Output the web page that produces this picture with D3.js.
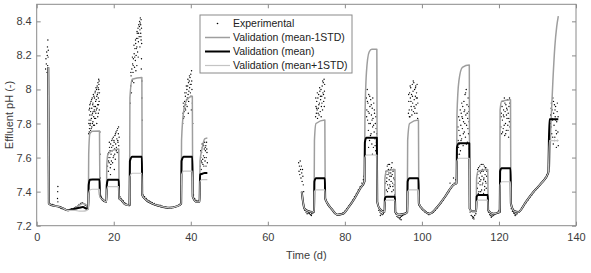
<!DOCTYPE html>
<html>
<head>
<meta charset="utf-8">
<script src="https://cdn.jsdelivr.net/npm/d3@7"></script>
<style>
  body { margin: 0; background: #fff; }
  text { font-family: "Liberation Sans", Arial, sans-serif; }
</style>
</head>
<body>
<div id="chart"></div>
<script>
// axis ticks
var xTicks = [0, 20, 40, 60, 80, 100, 120, 140];
var yTicks = [7.2, 7.4, 7.6, 7.8, 8, 8.2, 8.4];

// simulated runs (null = no simulation between the two campaigns)
var simTime = [3.0, 3.15, 4, 5, 6, 7, 8, 9, 10, 11, 12, 13, 13.4,
  13.5, 13.8, 14.5, 16.3, 16.4, 17, 18.1,
  18.2, 18.5, 20, 21.3, 21.4, 22, 23, 24.1,
  24.2, 24.8, 27.3, 27.4, 28, 30, 32, 34.5, 36.5, 37.5,
  37.6, 38.2, 39, 40.4, 40.5, 41.5, 42.3,
  42.4, 43, 43.6, 44.3,
  56,
  68.8, 69.5, 70.5, 71.5, 72.0,
  72.1, 72.5, 74.8, 74.9, 75.5, 76.5, 78, 79.5, 81, 82.5, 84, 85.1,
  85.2, 85.6, 86.3, 87, 88.3, 88.4, 89, 90.3,
  90.4, 90.8, 93.0, 93.1, 94, 95.5, 96.2,
  96.3, 96.8, 99.1, 99.2, 100.5, 102, 104, 106, 108.2, 109.0,
  109.1, 109.6, 110.5, 112.3, 112.4, 113, 114.1,
  114.2, 114.6, 117.1, 117.2, 118.5, 120.2,
  120.3, 120.7, 123.0, 123.1, 124, 125, 127, 129, 131, 132.8,
  133.1, 133.5, 134.0, 134.5, 135.0, 135.4];

var valMinus = [8.13, 7.33, 7.32, 7.315, 7.31, 7.30, 7.29, 7.295, 7.305, 7.32, 7.33, 7.32, 7.30,
  7.62, 7.74, 7.755, 7.756, 7.40, 7.355, 7.34,
  7.56, 7.62, 7.645, 7.65, 7.37, 7.35, 7.325, 7.32,
  7.95, 8.06, 8.07, 7.38, 7.36, 7.33, 7.315, 7.305, 7.315, 7.33,
  7.70, 7.88, 7.94, 7.96, 7.37, 7.34, 7.34,
  7.58, 7.66, 7.71, 7.715,
  null,
  7.40, 7.30, 7.285, 7.28, 7.285,
  7.70, 7.80, 7.82, 7.36, 7.33, 7.30, 7.265, 7.27, 7.31, 7.36, 7.42, 7.46,
  7.80, 8.10, 8.22, 8.236, 8.236, 7.34, 7.30, 7.28,
  7.48, 7.52, 7.53, 7.28, 7.265, 7.27, 7.28,
  7.70, 7.80, 7.82, 7.33, 7.29, 7.27, 7.31, 7.37, 7.44, 7.45,
  7.85, 8.05, 8.13, 8.143, 7.30, 7.285, 7.285,
  7.48, 7.52, 7.53, 7.29, 7.27, 7.28,
  7.88, 7.93, 7.94, 7.33, 7.285, 7.28, 7.34, 7.40, 7.45, 7.51,
  7.55, 7.80, 8.05, 8.25, 8.37, 8.43];

var valMean = [8.13, 7.33, 7.32, 7.315, 7.31, 7.30, 7.29, 7.295, 7.30, 7.305, 7.31, 7.30, 7.30,
  7.44, 7.47, 7.472, 7.472, 7.38, 7.355, 7.34,
  7.44, 7.47, 7.47, 7.47, 7.36, 7.35, 7.325, 7.32,
  7.58, 7.605, 7.605, 7.38, 7.36, 7.33, 7.315, 7.305, 7.315, 7.33,
  7.58, 7.605, 7.605, 7.605, 7.37, 7.34, 7.34,
  7.50, 7.505, 7.51, 7.51,
  null,
  7.40, 7.30, 7.285, 7.28, 7.285,
  7.46, 7.478, 7.478, 7.36, 7.33, 7.30, 7.265, 7.27, 7.31, 7.36, 7.42, 7.46,
  7.69, 7.717, 7.717, 7.717, 7.717, 7.34, 7.30, 7.28,
  7.36, 7.37, 7.37, 7.28, 7.265, 7.27, 7.28,
  7.46, 7.478, 7.478, 7.33, 7.29, 7.27, 7.31, 7.37, 7.44, 7.45,
  7.66, 7.684, 7.684, 7.684, 7.30, 7.285, 7.285,
  7.37, 7.38, 7.38, 7.29, 7.27, 7.28,
  7.52, 7.537, 7.537, 7.33, 7.285, 7.28, 7.34, 7.40, 7.45, 7.51,
  7.825, 7.825, 7.825, 7.825, 7.825, 7.825];

var valPlus = [8.13, 7.33, 7.32, 7.315, 7.31, 7.30, 7.29, 7.29, 7.29, 7.285, 7.285, 7.29, 7.30,
  7.39, 7.41, 7.414, 7.414, 7.37, 7.355, 7.34,
  7.41, 7.43, 7.43, 7.43, 7.36, 7.35, 7.325, 7.32,
  7.49, 7.508, 7.508, 7.38, 7.36, 7.33, 7.315, 7.305, 7.315, 7.33,
  7.50, 7.52, 7.52, 7.52, 7.37, 7.34, 7.34,
  7.46, 7.47, 7.47, 7.47,
  null,
  7.40, 7.30, 7.285, 7.28, 7.285,
  7.40, 7.41, 7.41, 7.36, 7.33, 7.30, 7.265, 7.27, 7.31, 7.36, 7.42, 7.46,
  7.60, 7.615, 7.615, 7.615, 7.615, 7.34, 7.30, 7.28,
  7.34, 7.35, 7.35, 7.28, 7.265, 7.27, 7.28,
  7.40, 7.41, 7.41, 7.33, 7.29, 7.27, 7.31, 7.37, 7.44, 7.45,
  7.58, 7.596, 7.596, 7.596, 7.30, 7.285, 7.285,
  7.34, 7.35, 7.35, 7.29, 7.27, 7.28,
  7.44, 7.458, 7.458, 7.33, 7.285, 7.28, 7.34, 7.40, 7.45, 7.51,
  7.70, 7.70, 7.70, 7.70, 7.70, 7.70];

// experimental points [time (d), pH]
var expRun1Start = [[2.3,8.12],[2.4,8.18],[2.5,8.15],[2.6,8.22],[2.7,8.10],[2.75,8.20],[2.8,8.25],[2.85,8.14],
  [2.9,8.29],[2.95,8.19],[3.0,8.23],[5.4,7.36],[5.45,7.40],[5.5,7.43],[5.5,7.34]];

var expRun1Base = [[3.3,7.33],[3.7,7.32],[4.1,7.325],[4.5,7.32],[4.9,7.315],[5.8,7.31],[6.2,7.305],[6.6,7.30],
  [7.0,7.30],[7.4,7.295],[7.8,7.29],[8.2,7.29],[8.6,7.295],[9.0,7.30],[9.4,7.30],[9.8,7.305],[10.2,7.31],
  [10.6,7.315],[11.0,7.325],[11.4,7.33],[11.8,7.335],[12.2,7.33],[12.6,7.32],[13.0,7.31],
  [16.6,7.37],[16.9,7.36],[17.2,7.355],[17.5,7.35],[17.8,7.345],[18.1,7.34],
  [21.6,7.37],[21.9,7.36],[22.2,7.35],[22.5,7.345],[22.8,7.335],[23.1,7.33],[23.4,7.325],[23.7,7.32],[24.0,7.32],
  [27.6,7.38],[28.0,7.37],[28.4,7.36],[28.8,7.35],[29.2,7.345],[29.6,7.34],[30.0,7.335],[30.5,7.33],[31.0,7.325],
  [31.5,7.32],[32.0,7.32],[32.5,7.315],[33.0,7.31],[33.5,7.31],[34.0,7.305],[34.5,7.305],[35.0,7.305],
  [35.5,7.31],[36.0,7.31],[36.5,7.315],[37.0,7.32],[37.4,7.33],
  [40.7,7.38],[41.0,7.36],[41.3,7.35],[41.6,7.345],[41.9,7.34],[42.2,7.35]];

var expRun1Peaks = [[13.5,7.74],[13.6,7.82],[13.6,7.88],[13.7,7.77],[13.8,7.85],[13.8,7.91],[13.9,7.80],[14.0,7.87],
  [14.0,7.76],[14.1,7.93],[14.2,7.83],[14.3,7.89],[14.3,7.78],[14.4,7.95],[14.5,7.86],[14.6,7.81],[14.6,7.92],
  [14.7,7.97],[14.8,7.84],[14.9,7.90],[15.0,7.79],[15.0,7.95],[15.1,7.87],[15.2,7.99],[15.3,7.83],[15.3,7.93],
  [15.4,8.01],[15.5,7.88],[15.6,7.96],[15.6,7.80],[15.7,8.02],[15.8,7.91],[15.9,7.98],[15.9,8.04],[16.0,7.86],
  [16.0,7.95],[16.1,8.06],[16.1,8.00],[16.2,7.93],[16.2,8.05],[16.3,7.98],[16.4,7.75],[16.45,7.62],[16.5,7.48],
  [18.4,7.55],[18.5,7.60],[18.6,7.52],[18.7,7.63],[18.8,7.57],[18.9,7.66],[19.0,7.60],[19.1,7.54],[19.2,7.68],
  [19.3,7.62],[19.4,7.58],[19.5,7.70],[19.6,7.64],[19.7,7.57],[19.8,7.67],[19.9,7.72],[20.0,7.61],[20.1,7.69],
  [20.2,7.65],[20.3,7.73],[20.4,7.59],[20.5,7.68],[20.6,7.75],[20.7,7.66],[20.8,7.71],[20.9,7.63],[21.0,7.77],
  [21.1,7.69],[21.2,7.74],[21.3,7.67],[21.4,7.72],
  [24.3,7.92],[24.4,8.02],[24.5,8.08],[24.6,7.98],[24.7,8.12],[24.8,8.05],[24.9,8.15],[25.0,8.10],[25.1,8.18],
  [25.2,8.04],[25.3,8.21],[25.4,8.13],[25.5,8.24],[25.6,8.17],[25.7,8.27],[25.8,8.20],[25.9,8.30],[26.0,8.14],
  [26.0,8.25],[26.1,8.33],[26.2,8.22],[26.3,8.36],[26.4,8.28],[26.5,8.38],[26.6,8.31],[26.7,8.40],[26.8,8.25],
  [26.8,8.35],[26.9,8.42],[27.0,8.33],[27.0,8.38],[27.1,8.41],[27.1,8.29],[27.2,8.36],[27.2,8.18],[27.3,8.05],
  [27.3,7.95],[27.4,7.82],
  [37.9,7.80],[38.0,7.86],[38.1,7.83],[38.2,7.90],[38.3,7.87],[38.4,7.93],[38.5,7.89],[38.6,7.96],[38.7,7.91],
  [38.8,7.98],[38.9,7.94],[39.0,8.00],[39.1,7.95],[39.2,8.02],[39.3,7.97],[39.4,8.04],[39.5,7.99],[39.6,8.05],
  [39.7,8.01],[39.8,8.07],[39.9,7.98],[40.0,8.09],[40.1,8.03],[40.2,8.11],[40.3,8.00],[40.4,7.92],[40.5,7.80],
  [42.5,7.55],[42.6,7.60],[42.7,7.53],[42.8,7.63],[42.9,7.57],[43.0,7.66],[43.1,7.59],[43.2,7.68],[43.3,7.61],
  [43.4,7.55],[43.5,7.65],[43.6,7.69],[43.7,7.58],[43.8,7.64],[43.9,7.67],[44.0,7.60],[44.1,7.69],[44.2,7.63],
  [44.3,7.57]];

var expRun1More = [[13.55,7.80],[13.65,7.75],[13.75,7.89],[13.85,7.79],[13.95,7.92],[14.05,7.82],[14.15,7.77],
  [14.25,7.94],[14.35,7.85],[14.45,7.80],[14.55,7.91],[14.65,7.87],[14.75,7.79],[14.85,7.96],[14.95,7.88],
  [15.05,7.83],[15.15,7.98],[15.25,7.90],[15.35,7.86],[15.45,7.94],[15.55,8.00],[15.65,7.89],[15.75,7.97],
  [15.85,7.84],[15.95,8.01],[16.05,7.91],[16.15,8.03],[16.25,7.88],
  [18.45,7.62],[18.65,7.58],[18.85,7.69],[19.05,7.64],[19.25,7.56],[19.45,7.66],[19.65,7.71],[19.85,7.60],
  [20.05,7.70],[20.25,7.62],[20.45,7.74],[20.65,7.64],[20.85,7.76],[21.05,7.70],[21.25,7.78],[19.15,7.50],[20.15,7.53],
  [24.45,8.10],[24.65,8.05],[24.85,8.19],[25.05,8.14],[25.25,8.26],[25.45,8.19],[25.65,8.29],[25.85,8.24],
  [26.05,8.34],[26.25,8.30],[26.45,8.33],[26.65,8.37],[26.85,8.39],[27.05,8.31],[27.25,8.27],[26.35,8.19],
  [25.75,8.11],[27.15,8.12],
  [38.05,7.92],[38.25,7.84],[38.45,7.98],[38.65,7.88],[38.85,8.02],[39.05,7.90],[39.25,8.06],[39.45,7.93],
  [39.65,8.08],[39.85,8.03],[40.05,7.96],[40.25,8.05],[40.15,7.88],[39.35,7.86],
  [42.55,7.64],[42.75,7.58],[42.95,7.68],[43.15,7.56],[43.35,7.67],[43.55,7.60],[43.75,7.66],[43.95,7.55],[44.15,7.65]];

var expRun2Base = [[68.0,7.57],[68.1,7.52],[68.2,7.55],[68.3,7.50],[68.4,7.58],[68.5,7.53],[68.6,7.48],[68.7,7.55],
  [68.8,7.51],[68.9,7.46],[69.0,7.53],[69.1,7.49],[69.2,7.44],[69.3,7.40],
  [69.6,7.29],[69.9,7.28],[70.2,7.27],[70.5,7.275],[70.8,7.27],[71.1,7.265],[71.4,7.27],[71.7,7.275],[72.0,7.28],
  [75.1,7.35],[75.4,7.33],[75.7,7.32],[76.0,7.31],[76.4,7.30],[76.8,7.29],[77.2,7.28],[77.6,7.27],[78.0,7.265],
  [78.5,7.265],[79.0,7.27],[79.5,7.275],[80.0,7.285],[80.5,7.30],[81.0,7.315],[81.5,7.33],[82.0,7.35],[82.5,7.37],
  [83.0,7.39],[83.5,7.41],[84.0,7.43],[84.4,7.45],[84.8,7.47],[85.0,7.49],
  [88.5,7.32],[88.8,7.29],[89.1,7.28],[89.4,7.27],[89.7,7.265],[90.0,7.27],[90.3,7.28],
  [93.2,7.27],[93.5,7.255],[93.8,7.25],[94.1,7.245],[94.4,7.25],[94.7,7.255],[95.0,7.26],[95.3,7.265],[95.6,7.27],
  [95.9,7.275],[96.2,7.28],
  [99.3,7.32],[99.6,7.31],[100.0,7.30],[100.4,7.29],[100.8,7.28],[101.2,7.275],[101.6,7.27],[102.0,7.27],
  [102.5,7.275],[103.0,7.28],[103.5,7.29],[104.0,7.305],[104.5,7.32],[105.0,7.335],[105.5,7.35],[106.0,7.37],
  [106.5,7.39],[107.0,7.40],[107.3,7.45],[107.5,7.42],[108.0,7.44],[108.2,7.48],[108.4,7.45],[108.8,7.47],
  [112.5,7.28],[112.8,7.26],[113.1,7.255],[113.4,7.25],[113.7,7.26],[114.0,7.27],
  [117.3,7.28],[117.6,7.265],[117.9,7.26],[118.2,7.255],[118.5,7.26],[118.8,7.265],[119.1,7.27],[119.4,7.275],
  [119.7,7.28],[120.0,7.29],
  [123.2,7.30],[123.5,7.285],[123.8,7.275],[124.1,7.27],[124.4,7.265],[124.7,7.27],[125.0,7.28],[125.5,7.29],
  [126.0,7.305],[126.5,7.32],[127.0,7.335],[127.5,7.35],[128.0,7.365],[128.5,7.38],[129.0,7.395],[129.5,7.41],
  [130.0,7.42],[130.5,7.435],[131.0,7.45],[131.5,7.465],[132.0,7.48],[132.5,7.50],[132.9,7.52],
  [71.3,7.26],[89.2,7.26],[94.3,7.24],[94.6,7.235],[101.8,7.265],[113.2,7.245],[113.5,7.24],[118.0,7.25],[124.2,7.26]];

var expRun2Peaks = [[72.4,7.84],[72.5,7.90],[72.6,7.86],[72.7,7.93],[72.8,7.88],[72.9,7.83],[73.0,7.95],[73.1,7.89],
  [73.2,7.97],[73.3,7.85],[73.4,7.92],[73.5,7.99],[73.6,7.87],[73.7,7.94],[73.8,8.00],[73.9,7.90],[74.0,7.96],
  [74.1,8.02],[74.2,7.88],[74.3,7.98],[74.4,8.04],[74.5,7.93],[74.6,8.06],[74.7,7.99],[74.8,7.95],
  [85.6,7.95],[85.7,7.88],[85.8,8.00],[85.9,7.82],[86.0,7.92],[86.1,7.76],[86.2,7.97],[86.3,7.86],[86.4,7.70],
  [86.5,7.90],[86.6,7.80],[86.7,7.94],[86.8,7.74],[86.9,7.85],[87.0,7.68],[87.1,7.89],[87.2,7.78],[87.3,7.83],
  [87.4,7.66],[87.5,7.92],[87.6,7.75],[87.7,7.86],[87.8,7.71],[87.9,7.80],[88.0,7.64],[88.1,7.77],[88.2,7.69],
  [88.3,7.62],
  [90.6,7.45],[90.7,7.52],[90.8,7.41],[90.9,7.48],[91.0,7.55],[91.1,7.44],[91.2,7.50],[91.3,7.53],[91.4,7.42],
  [91.5,7.47],[91.6,7.56],[91.7,7.49],[91.8,7.43],[91.9,7.51],[92.0,7.46],[92.1,7.54],[92.2,7.40],[92.3,7.50],
  [92.4,7.45],[92.5,7.52],[92.6,7.41],[92.7,7.48],[92.8,7.44],[92.9,7.38],
  [96.5,7.86],[96.6,7.93],[96.7,7.88],[96.8,7.98],[96.9,7.84],[97.0,7.95],[97.1,8.01],[97.2,7.90],[97.3,7.97],
  [97.4,7.85],[97.5,8.03],[97.6,7.92],[97.7,7.99],[97.8,7.87],[97.9,8.04],[98.0,7.94],[98.1,8.00],[98.2,7.89],
  [98.3,7.96],[98.4,8.02],[98.5,7.91],[98.6,7.98],[98.7,7.86],[98.8,7.95],[98.9,7.83],
  [109.3,7.62],[109.4,7.70],[109.5,7.66],[109.6,7.76],[109.7,7.68],[109.8,7.82],[109.9,7.73],[110.0,7.64],
  [110.1,7.79],[110.2,7.86],[110.3,7.71],[110.4,7.84],[110.5,7.77],[110.6,7.90],[110.7,7.67],[110.8,7.81],
  [110.9,7.93],[111.0,7.75],[111.1,7.88],[111.2,7.97],[111.3,7.72],[111.4,7.85],[111.5,8.00],[111.6,7.79],
  [111.7,7.91],[111.8,7.69],[111.9,7.83],[112.0,7.95],[112.1,7.74],[112.2,7.87],[112.3,7.65],
  [114.4,7.42],[114.5,7.50],[114.6,7.45],[114.7,7.54],[114.8,7.40],[114.9,7.48],[115.0,7.55],[115.1,7.44],
  [115.2,7.51],[115.3,7.47],[115.4,7.56],[115.5,7.41],[115.6,7.49],[115.7,7.53],[115.8,7.45],[115.9,7.52],
  [116.0,7.39],[116.1,7.48],[116.2,7.55],[116.3,7.43],[116.4,7.50],[116.5,7.46],[116.6,7.54],[116.7,7.42],
  [116.8,7.49],[116.9,7.38],
  [120.5,7.78],[120.6,7.86],[120.7,7.74],[120.8,7.90],[120.9,7.82],[121.0,7.93],[121.1,7.77],[121.2,7.88],
  [121.3,7.84],[121.4,7.95],[121.5,7.73],[121.6,7.87],[121.7,7.80],[121.8,7.91],[121.9,7.76],[122.0,7.89],
  [122.1,7.83],[122.2,7.94],[122.3,7.79],[122.4,7.86],[122.5,7.72],[122.6,7.90],[122.7,7.81],[122.8,7.92],
  [133.3,7.70],[133.4,7.85],[133.5,7.78],[133.6,7.92],[133.7,7.74],[133.8,7.88],[133.9,7.82],[134.0,7.95],
  [134.1,7.68],[134.2,7.86],[134.3,7.79],[134.4,7.91],[134.5,7.72],[134.6,7.84],[134.7,7.90],[134.8,7.76],
  [134.9,7.66],[135.0,7.81],[135.1,7.87],[135.2,7.70],[135.3,7.75],[135.4,7.67]];

var expRun2More = [[72.45,7.95],[72.65,7.89],[72.85,7.98],[73.05,7.86],[73.25,7.91],[73.45,8.01],[73.65,7.96],
  [73.85,7.84],[74.05,7.92],[74.25,8.05],[74.45,7.97],[74.65,7.90],[74.75,8.03],
  [85.65,7.84],[85.85,7.93],[86.05,7.87],[86.25,7.80],[86.45,7.96],[86.65,7.73],[86.85,7.91],[87.05,7.82],
  [87.25,7.95],[87.45,7.79],[87.65,7.88],[87.85,7.67],[88.05,7.84],[88.25,7.74],[86.15,7.66],[87.15,7.62],
  [90.65,7.50],[90.85,7.46],[91.05,7.40],[91.25,7.56],[91.45,7.51],[91.65,7.44],[91.85,7.53],[92.05,7.49],
  [92.25,7.57],[92.45,7.43],[92.65,7.53],[92.85,7.47],
  [96.55,7.97],[96.75,7.84],[96.95,8.02],[97.15,7.93],[97.35,7.88],[97.55,7.96],[97.75,8.05],[97.95,7.90],
  [98.15,7.86],[98.35,8.01],[98.55,7.95],[98.75,8.03],[98.95,7.92],
  [109.35,7.78],[109.55,7.84],[109.75,7.62],[109.95,7.88],[110.15,7.70],[110.35,7.92],[110.55,7.83],[110.75,7.74],
  [110.95,7.87],[111.15,7.80],[111.35,7.98],[111.55,7.68],[111.75,7.86],[111.95,7.77],[112.15,7.90],[112.25,7.81],
  [114.45,7.53],[114.65,7.39],[114.85,7.52],[115.05,7.46],[115.25,7.40],[115.45,7.52],[115.65,7.44],[115.85,7.56],
  [116.05,7.47],[116.25,7.41],[116.45,7.54],[116.65,7.45],[116.85,7.52],
  [120.55,7.84],[120.75,7.93],[120.95,7.75],[121.15,7.85],[121.35,7.79],[121.55,7.92],[121.75,7.74],[121.95,7.85],
  [122.15,7.88],[122.35,7.76],[122.55,7.83],[122.75,7.95],[122.85,7.78],
  [133.35,7.80],[133.55,7.89],[133.75,7.83],[133.95,7.72],[134.15,7.93],[134.35,7.70],[134.55,7.88],[134.75,7.82],
  [134.95,7.74],[135.15,7.92],[135.35,7.84]];

var legendLabels = ["Experimental", "Validation (mean-1STD)", "Validation (mean)", "Validation (mean+1STD)"];

// Define the dimensions for the SVG
var width = 591;
var height = 273;
var margin = {top: 4.3, right: 15, bottom: 47.3, left: 36.7};
var innerW = width - margin.left - margin.right;
var innerH = height - margin.top - margin.bottom;

var svg = d3.select("#chart")
  .append("svg")
  .attr("width", width)
  .attr("height", height);

var g = svg.append("g")
  .attr("transform", "translate(" + margin.left + "," + margin.top + ")");

var x = d3.scaleLinear().domain([0, 140]).range([0, innerW]);
var y = d3.scaleLinear().domain([7.2, 8.5]).range([innerH, 0]);

g.append("clipPath").attr("id", "plot-clip")
  .append("rect").attr("width", innerW).attr("height", innerH);

var plot = g.append("g").attr("clip-path", "url(#plot-clip)");

// experimental dots
var expData = expRun1Start.concat(expRun1Base, expRun1Peaks, expRun1More, expRun2Base, expRun2Peaks, expRun2More);
plot.selectAll(".dot")
  .data(expData)
  .enter().append("circle")
  .attr("class", "dot")
  .attr("cx", function(d) { return x(d[0]); })
  .attr("cy", function(d) { return y(d[1]); })
  .attr("r", 0.7)
  .attr("fill", "#000");

// validation lines
var line = d3.line()
  .defined(function(d) { return d[1] !== null; })
  .x(function(d) { return x(d[0]); })
  .y(function(d) { return y(d[1]); })
  .curve(d3.curveMonotoneX);

var series = [
  {values: valMinus, color: "#9e9e9e", width: 1.5},
  {values: valMean, color: "#000000", width: 2},
  {values: valPlus, color: "#c4c4c4", width: 1.2}
];

series.forEach(function(s) {
  var pts = simTime.map(function(t, i) { return [t, s.values[i]]; });
  plot.append("path")
    .datum(pts)
    .attr("fill", "none")
    .attr("stroke", s.color)
    .attr("stroke-width", s.width)
    .attr("stroke-linejoin", "round")
    .attr("d", line);
});

// axes, ticks pointing inwards on all four sides
var axisColor = "#8a8a8a";
var textColor = "#3c3c3c";

function styleAxis(sel) {
  sel.select(".domain").remove();
  sel.selectAll(".tick line").attr("stroke", axisColor);
  sel.selectAll(".tick text")
    .attr("fill", textColor)
    .style("font-size", "11px");
}

g.append("g")
  .attr("transform", "translate(0," + innerH + ")")
  .call(d3.axisBottom(x).tickValues(xTicks).tickSizeInner(-4).tickSizeOuter(0).tickPadding(8))
  .call(styleAxis);

g.append("g")
  .call(d3.axisTop(x).tickValues(xTicks).tickSizeInner(-4).tickSizeOuter(0).tickFormat(""))
  .call(styleAxis);

g.append("g")
  .call(d3.axisLeft(y).tickValues(yTicks).tickSizeInner(-4).tickSizeOuter(0).tickPadding(5)
    .tickFormat(function(d) { return String(d); }))
  .call(styleAxis);

g.append("g")
  .attr("transform", "translate(" + innerW + ",0)")
  .call(d3.axisRight(y).tickValues(yTicks).tickSizeInner(-4).tickSizeOuter(0).tickFormat(""))
  .call(styleAxis);

g.append("rect")
  .attr("width", innerW)
  .attr("height", innerH)
  .attr("fill", "none")
  .attr("stroke", axisColor)
  .attr("stroke-width", 1);

// axis titles
g.append("text")
  .attr("x", innerW / 2)
  .attr("y", innerH + 33)
  .attr("text-anchor", "middle")
  .attr("fill", textColor)
  .style("font-size", "11px")
  .text("Time (d)");

g.append("text")
  .attr("transform", "translate(" + (-24) + "," + (innerH / 2) + ") rotate(-90)")
  .attr("text-anchor", "middle")
  .attr("fill", textColor)
  .style("font-size", "11px")
  .text("Effluent pH (-)");

// legend
var legend = svg.append("g").attr("transform", "translate(200,15)");
legend.append("rect")
  .attr("width", 152)
  .attr("height", 58)
  .attr("fill", "#fff")
  .attr("stroke", axisColor)
  .attr("stroke-width", 1);

var rows = legend.selectAll(".entry")
  .data(legendLabels)
  .enter().append("g")
  .attr("class", "entry")
  .attr("transform", function(d, i) { return "translate(0," + (8.5 + i * 14) + ")"; });

rows.each(function(d, i) {
  var row = d3.select(this);
  if (i === 0) {
    row.append("circle").attr("cx", 17.5).attr("cy", 0).attr("r", 0.8).attr("fill", "#000");
  } else {
    var s = series[i - 1];
    row.append("line")
      .attr("x1", 5).attr("x2", 30)
      .attr("stroke", s.color)
      .attr("stroke-width", s.width);
  }
  row.append("text")
    .attr("x", 33)
    .attr("dy", "0.35em")
    .attr("fill", "#222")
    .style("font-size", "10.5px")
    .text(d);
});
</script>
</body>
</html>
